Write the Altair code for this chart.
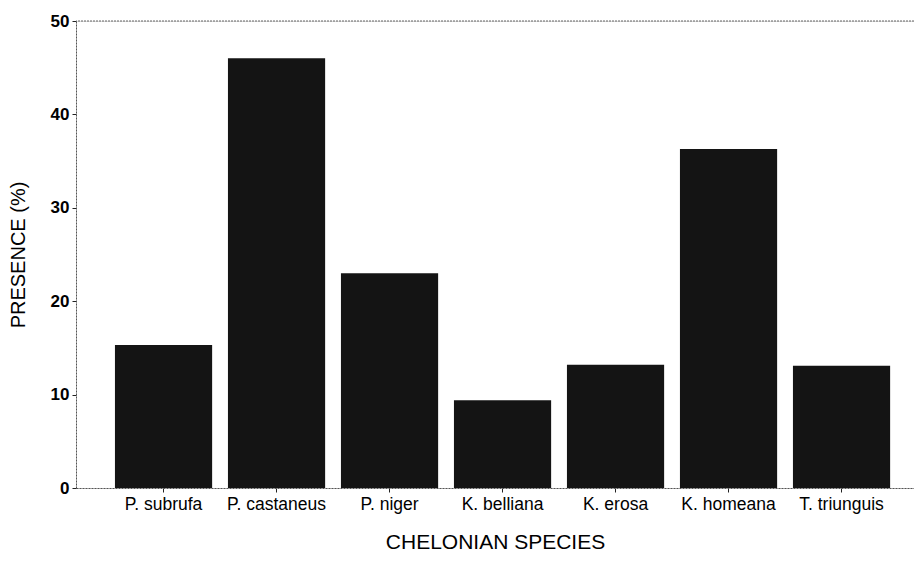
import altair as alt
import pandas as pd

species = ["P. subrufa", "P. castaneus", "P. niger", "K. belliana", "K. erosa", "K. homeana", "T. triunguis"]
presence = [15.3, 46.0, 23.0, 9.4, 13.2, 36.3, 13.1]
y_ticks = [0, 10, 20, 30, 40, 50]

df = pd.DataFrame({"species": species, "presence": presence})

FONT = "Liberation Sans"

bars = alt.Chart(df).mark_bar(color="#141414").encode(
    x=alt.X(
        "species:N",
        sort=species,
        scale=alt.Scale(paddingInner=0.14, paddingOuter=0.278, align=0.62),
        axis=alt.Axis(
            title="CHELONIAN SPECIES",
            labelAngle=0,
            labelFont=FONT,
            labelFontSize=17.5,
            labelColor="#000",
            labelPadding=3,
            tickSize=4,
            tickColor="#222",
            domainColor="#555",
            domainDash=[2, 1],
            titleFont=FONT,
            titleFontSize=21,
            titleFontWeight="normal",
            titleColor="#000",
            titlePadding=19,
        ),
    ),
    y=alt.Y(
        "presence:Q",
        scale=alt.Scale(domain=[0, 50], nice=False),
        axis=alt.Axis(
            title="PRESENCE (%)",
            values=y_ticks,
            grid=False,
            labelFont=FONT,
            labelFontSize=17,
            labelFontWeight="bold",
            labelColor="#000",
            labelPadding=3,
            tickSize=4,
            tickColor="#222",
            domainColor="#555",
            domainDash=[2, 1],
            titleFont=FONT,
            titleFontSize=20,
            titleFontWeight="normal",
            titleColor="#000",
            titlePadding=22,
        ),
    ),
)

top = alt.Chart(pd.DataFrame({"y": [50]})).mark_rule(
    color="#666", strokeDash=[2, 1], strokeWidth=1
).encode(y=alt.Y("y:Q"))

chart = alt.layer(bars, top).properties(
    width=838,
    height=467,
    autosize=alt.AutoSizeParams(type="none"),
    padding={"left": 68, "top": 13, "right": 0, "bottom": 66},
).configure_view(stroke=None).configure(background="white")

chart.save("out.html", embed_options={"renderer": "svg", "actions": False})
